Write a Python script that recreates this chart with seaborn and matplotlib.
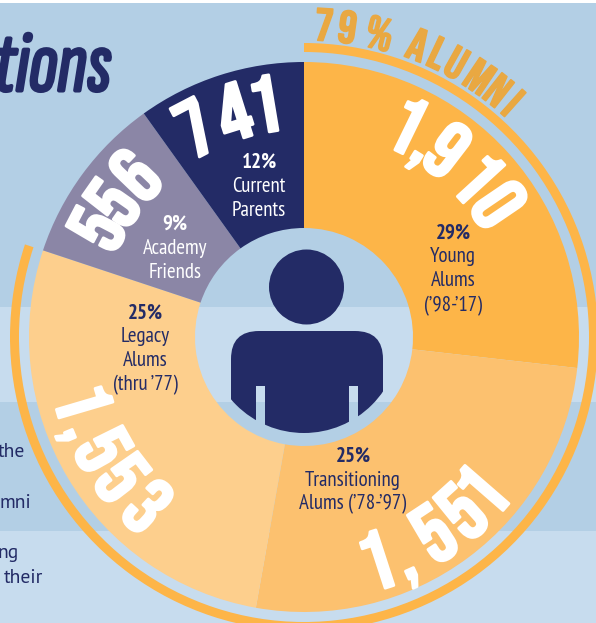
import numpy as np
import pandas as pd
import matplotlib
matplotlib.use('Agg')
import matplotlib.pyplot as plt
import matplotlib.patheffects as pe
from matplotlib.patches import Circle, FancyBboxPatch, Rectangle
import seaborn as sns

sns.set_theme(style='white')
BODY_FONT = ['PT Sans Narrow', 'Roboto Condensed', 'Liberation Sans', 'DejaVu Sans']
NUM_FONT = ['Bebas Neue', 'Oswald', 'Liberation Sans', 'DejaVu Sans']
TITLE_FONT = ['Sofia Sans Extra Condensed', 'Barlow Condensed', 'Liberation Sans', 'DejaVu Sans']
SIDE_FONT = ['PT Sans', 'Open Sans', 'DejaVu Sans']
plt.rcParams['font.family'] = BODY_FONT

# data
groups = ['Young Alums', 'Transitioning Alums', 'Legacy Alums', 'Academy Friends', 'Current Parents']
counts = ['1,910', '1,551', '1,553', '556', '741']
# share of the circle that each slice really covers in the picture
slice_share = [26.8, 26.0, 27.3, 10.0, 9.9]
slice_colors = ['#FDB548', '#FCC16F', '#FDCF8D', '#8B86A6', '#232B66']
alumni_share = sum(slice_share[:3])

NAVY = '#232B66'
DARK_BAND = '#B3CFE5'
LIGHT_BAND = '#C7DCEE'
W, H = 596, 623
CX, CY = 304, 337


def py(y):
    # picture y (top down) to axes y
    return H - y


df = pd.DataFrame({'group': groups, 'share': slice_share})

fig = plt.figure(figsize=(W / 100, H / 100), dpi=100, facecolor='white')
ax = fig.add_axes([0, 0, 1, 1])

# background bands
for top, bottom, col in [(3, 307, DARK_BAND), (307, 402, LIGHT_BAND),
                         (402, 531, DARK_BAND), (531, 623, LIGHT_BAND)]:
    ax.axhspan(py(bottom), py(top), color=col, lw=0, zorder=0)

# the donut
ax.pie(df['share'], colors=sns.color_palette(slice_colors), startangle=90, counterclock=False,
       center=(CX, py(CY)), radius=275, wedgeprops={'width': 166, 'linewidth': 0})

# thin ring around the alumni part
ax.pie([alumni_share, 100 - alumni_share], colors=['#FDB548', 'none'], startangle=90, counterclock=False,
       center=(CX, py(CY)), radius=294, wedgeprops={'width': 9, 'linewidth': 0})

ax.set_xlim(0, W)
ax.set_ylim(0, H)
ax.set_aspect('equal')


def arc_text(chars, angles, base_r, size, color, bottom=False, stroke=2.0):
    # one glyph at a time, angles clockwise from north
    for ch, a in zip(chars, angles):
        t = np.deg2rad(a)
        x = CX + base_r * np.sin(t)
        y = CY - base_r * np.cos(t)
        rot = 180 - a if bottom else -a
        txt = ax.text(x, py(y), ch, rotation=rot, rotation_mode='anchor', ha='center', va='baseline',
                      fontsize=size, color=color, family=NUM_FONT, zorder=5)
        # Bebas is a bit thin next to the original numerals
        txt.set_path_effects([pe.withStroke(linewidth=stroke, foreground=color)])


arc_text('741', [-27.5, -17.4, -9.5], 208, 58, 'white')
arc_text('556', [-62.5, -55, -46.2], 206, 58, 'white')
arc_text('1,910', [26, 32, 37.5, 47.6, 55.8], 208, 58, 'white')
arc_text('1,551', [162, 155.6, 146.6, 137.9, 131], 264, 60, 'white', bottom=True)
arc_text('1,553', [253.6, 247.3, 240.8, 232.3, 222.7], 258, 58, 'white', bottom=True)
arc_text('79%', [3.7, 8, 14], 297, 33, '#E9A842', stroke=1.2)
arc_text('ALUMNI', [21.3, 25.3, 29.1, 34, 38.2, 41.8], 298, 33, '#E9A842', stroke=1.2)

# labels inside the slices
labels = [
    (453, [233, 257, 281, 306], ['29%', 'Young', 'Alums', "(’98-’17)"], NAVY),
    (353, [456, 480, 504], ['25%', 'Transitioning', "Alums (’78-’97)"], NAVY),
    (145, [313, 337, 361, 385], ['25%', 'Legacy', 'Alums', "(thru ’77)"], NAVY),
    (175, [224, 248, 272], ['9%', 'Academy', 'Friends'], 'white'),
    (259, [162, 186, 210], ['12%', 'Current', 'Parents'], 'white'),
]
for x, ys, lines, col in labels:
    for i, (y, line) in enumerate(zip(ys, lines)):
        ax.text(x, py(y), line, ha='center', va='center', fontsize=15, color=col,
                fontweight='bold' if i == 0 else 'normal', zorder=5)

# person in the hole
ax.add_patch(Circle((306.5, py(287)), 37.5, color=NAVY, lw=0, zorder=3))
clip = Circle((CX, py(CY)), 96, transform=ax.transData)
body = FancyBboxPatch((231, py(520)), 152, 189, boxstyle='round,pad=0,rounding_size=28',
                      facecolor=NAVY, lw=0, zorder=3)
ax.add_patch(body)
body.set_clip_path(clip)
for x0 in [256, 349]:
    ax.add_patch(Rectangle((x0, py(402)), 9, 16, color=LIGHT_BAND, lw=0, zorder=4))
    ax.add_patch(Rectangle((x0, py(430)), 9, 28, color=DARK_BAND, lw=0, zorder=4))

# bits of the page cut off on the left
title = ax.text(111, py(91), 'tions', ha='right', va='baseline', fontsize=62, fontstyle='italic',
                fontweight='bold', color=NAVY, family=TITLE_FONT, zorder=2)
title.set_path_effects([pe.withStroke(linewidth=2.2, foreground=NAVY)])
for x, y, s in [(25, 452, 'the'), (31, 503, 'mni'), (19, 553, 'ng'), (43, 578, 'their')]:
    ax.text(x, py(y), s, ha='right', va='center', fontsize=14, color=NAVY,
            family=SIDE_FONT, zorder=2)

fig.savefig('out.png', dpi=100)
